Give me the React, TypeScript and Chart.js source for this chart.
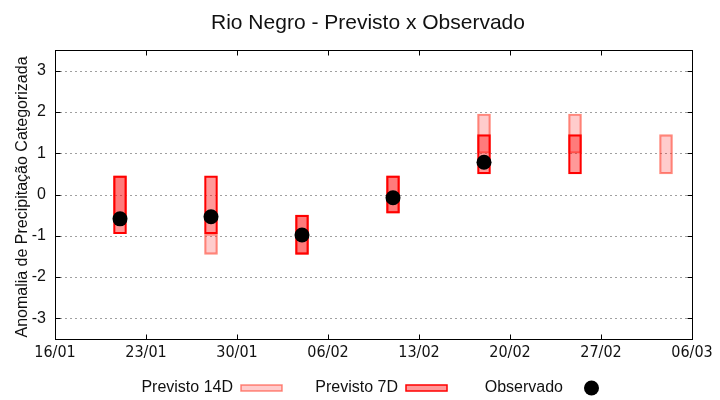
import React, { useEffect, useRef } from 'react';
import { Chart, registerables } from 'chart.js';

Chart.register(...registerables);

// ---------- data ----------
const chartTitle = 'Rio Negro - Previsto x Observado';
const yAxisTitle = 'Anomalia de Precipitação Categorizada';
const startDate = '16/01';
const endDate = '06/03';
const xTickLabels = ['16/01', '23/01', '30/01', '06/02', '13/02', '20/02', '27/02', '06/03'];
const yTickValues = [-3, -2, -1, 0, 1, 2, 3];
const yMin = -3.5;
const yMax = 3.5;

const forecastDates = ['21/01', '28/01', '04/02', '11/02', '18/02', '25/02', '04/03'];
const previsto14DLow: (number | null)[] = [-0.5, -1.45, -1.45, -0.45, 1.0, 1.0, 0.5];
const previsto14DHigh: (number | null)[] = [0.45, -0.95, -0.5, 0.45, 1.95, 1.95, 1.45];
const previsto7DLow: (number | null)[] = [-0.95, -0.95, -1.45, -0.45, 0.5, 0.5, null];
const previsto7DHigh: (number | null)[] = [0.45, 0.45, -0.5, 0.45, 1.45, 1.45, null];
const observado: (number | null)[] = [-0.59, -0.54, -0.98, -0.08, 0.78, null, null];

const seriesLabels = ['Previsto 14D', 'Previsto 7D', 'Observado'];

// ---------- helpers ----------
const YEAR = 2023;
function dayIndex(s: string): number {
  const [d, m] = s.split('/').map(Number);
  const [d0, m0] = startDate.split('/').map(Number);
  return Math.round((Date.UTC(YEAR, m - 1, d) - Date.UTC(YEAR, m0 - 1, d0)) / 86400000);
}

function rangeBars(lows: (number | null)[], highs: (number | null)[]) {
  return forecastDates.flatMap((d, i) =>
    lows[i] == null || highs[i] == null ? [] : [{ x: dayIndex(d), y: [lows[i] as number, highs[i] as number] }]
  );
}

function points(vals: (number | null)[]) {
  return forecastDates.flatMap((d, i) => (vals[i] == null ? [] : [{ x: dayIndex(d), y: vals[i] as number }]));
}

const FONT = "'Liberation Sans', Arial, sans-serif";
const NARROW = "'Liberation Sans Narrow', 'Arial Narrow', 'DejaVu Sans Condensed', sans-serif";

const decorPlugin = {
  id: 'decor',
  beforeDatasetsDraw(chart: any) {
    const { ctx, chartArea: a, scales } = chart;
    const y = scales.y;
    ctx.save();
    ctx.strokeStyle = '#a0a0a0';
    ctx.lineWidth = 1;
    ctx.setLineDash([2, 3]);
    y.ticks.forEach((t: any) => {
      const py = Math.round(y.getPixelForValue(t.value)) + 0.5;
      ctx.beginPath();
      ctx.moveTo(a.left, py);
      ctx.lineTo(a.right, py);
      ctx.stroke();
    });
    ctx.restore();
  },
  afterDraw(chart: any) {
    const { ctx, chartArea: a, scales } = chart;
    const x = scales.x;
    const y = scales.y;
    ctx.save();
    // border
    ctx.strokeStyle = '#000';
    ctx.lineWidth = 1;
    ctx.setLineDash([]);
    const L = Math.round(a.left) + 0.5;
    const R = Math.round(a.right) + 0.5;
    const T = Math.round(a.top) + 0.5;
    const B = Math.round(a.bottom) + 0.5;
    ctx.strokeRect(L, T, R - L, B - T);
    // ticks
    const tl = 5;
    ctx.beginPath();
    x.ticks.forEach((t: any) => {
      const px = Math.round(x.getPixelForValue(t.value)) + 0.5;
      ctx.moveTo(px, B);
      ctx.lineTo(px, B - tl);
      ctx.moveTo(px, T);
      ctx.lineTo(px, T + tl);
    });
    y.ticks.forEach((t: any) => {
      const py = Math.round(y.getPixelForValue(t.value)) + 0.5;
      ctx.moveTo(L, py);
      ctx.lineTo(L + tl, py);
      ctx.moveTo(R, py);
      ctx.lineTo(R - tl, py);
    });
    ctx.stroke();

    // title
    ctx.fillStyle = '#111';
    ctx.font = `21px ${FONT}`;
    ctx.textAlign = 'center';
    ctx.textBaseline = 'alphabetic';
    ctx.fillText(chartTitle, 368, 29);

    // y-axis title
    ctx.save();
    ctx.translate(26.5, 197);
    ctx.rotate(-Math.PI / 2);
    ctx.font = `16px ${FONT}`;
    ctx.textAlign = 'center';
    ctx.fillText(yAxisTitle, 0, 0);
    ctx.restore();

    // legend (gnuplot style: text then sample)
    const ds = chart.data.datasets;
    ctx.font = `16px ${FONT}`;
    ctx.textAlign = 'right';
    ds.forEach((d: any, i: number) => {
      const textRight = 233 + 165 * i;
      const cy = 388;
      ctx.fillStyle = '#111';
      ctx.fillText(d.label, textRight, 392);
      const sx = textRight + 8;
      const sw = 41;
      if (d.type === 'bar') {
        ctx.fillStyle = d.backgroundColor;
        ctx.fillRect(sx, cy - 3, sw, 6);
        ctx.strokeStyle = d.borderColor;
        ctx.lineWidth = 1.5;
        ctx.strokeRect(sx, cy - 3, sw, 6);
      } else {
        ctx.fillStyle = d.backgroundColor;
        ctx.beginPath();
        ctx.arc(sx + sw / 2, cy, d.pointRadius, 0, Math.PI * 2);
        ctx.fill();
      }
    });
    ctx.restore();
  },
};

export default function App() {
  const ref = useRef<HTMLCanvasElement>(null);

  useEffect(() => {
    if (!ref.current) return;
    const chart = new Chart(ref.current, {
      type: 'bar',
      data: {
        datasets: [
          {
            type: 'bar',
            label: seriesLabels[0],
            data: rangeBars(previsto14DLow, previsto14DHigh) as any,
            backgroundColor: 'rgba(255,0,0,0.2)',
            borderColor: 'rgba(255,60,40,0.6)',
            borderWidth: 1.5,
            borderSkipped: false,
            barThickness: 13,
            grouped: false,
            order: 3,
          } as any,
          {
            type: 'bar',
            label: seriesLabels[1],
            data: rangeBars(previsto7DLow, previsto7DHigh) as any,
            backgroundColor: 'rgba(255,0,0,0.4)',
            borderColor: '#ff0000',
            borderWidth: 1.5,
            borderSkipped: false,
            barThickness: 13,
            grouped: false,
            order: 2,
          } as any,
          {
            type: 'scatter',
            label: seriesLabels[2],
            data: points(observado) as any,
            backgroundColor: '#000',
            borderWidth: 0,
            pointRadius: 7.5,
            pointHoverRadius: 7.5,
            pointStyle: 'circle',
            showLine: false,
            order: 1,
          } as any,
        ],
      },
      options: {
        animation: false,
        responsive: false,
        events: [],
        layout: { padding: { top: 50, right: 28, bottom: 0, left: 0 } },
        plugins: {
          legend: { display: false },
          title: { display: false },
          tooltip: { enabled: false },
        },
        scales: {
          x: {
            type: 'linear',
            min: dayIndex(startDate),
            max: dayIndex(endDate),
            offset: false,
            grid: { display: false, drawTicks: false },
            border: { display: false },
            afterBuildTicks: (scale: any) => {
              scale.ticks = xTickLabels.map((l) => ({ value: dayIndex(l) }));
            },
            afterFit: (scale: any) => {
              scale.height = 61;
            },
            ticks: {
              padding: 4,
              maxRotation: 0,
              autoSkip: false,
              color: '#111',
              font: { family: NARROW, size: 16 },
              callback: (_v: any, i: number) => xTickLabels[i],
            },
          },
          y: {
            type: 'linear',
            min: yMin,
            max: yMax,
            grid: { display: false, drawTicks: false },
            border: { display: false },
            afterBuildTicks: (scale: any) => {
              scale.ticks = yTickValues.map((v) => ({ value: v }));
            },
            afterFit: (scale: any) => {
              scale.width = 55;
            },
            ticks: {
              padding: 9,
              autoSkip: false,
              color: '#111',
              font: { family: FONT, size: 16 },
              callback: (v: any) => String(v),
            },
          },
        },
      },
      plugins: [decorPlugin],
    } as any);
    return () => chart.destroy();
  }, []);

  return (
    <div style={{ position: 'absolute', left: 0, top: 0, width: 720, height: 400, background: '#fff' }}>
      <canvas ref={ref} width={720} height={400} style={{ display: 'block' }} />
    </div>
  );
}
